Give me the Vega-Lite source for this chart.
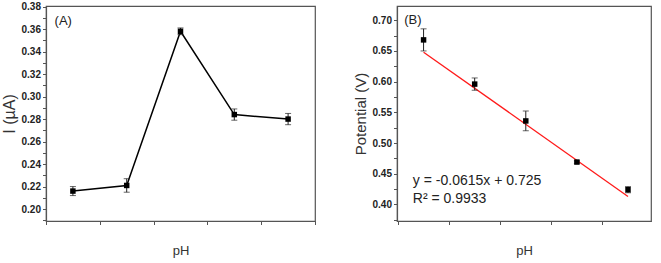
{
  "$schema": "https://vega.github.io/schema/vega-lite/v6.json",
  "padding": {"left": 0, "top": 0, "right": 5, "bottom": 0},
  "background": "white",
  "config": {
    "view": {"stroke": "#555", "strokeWidth": 1.2},
    "font": "Liberation Sans",
    "axis": {"grid": false, "domainColor": "#555", "tickColor": "#555", "labelColor": "#222", "titleColor": "#333", "titleFontWeight": "normal", "domainWidth": 1.2, "labelOverlap": false, "labelBound": false, "tickSize": 3.5, "tickCount": 100}
  },
  "datasets": {
    "a": [
      {"pH": 5, "I": 0.216, "lo": 0.212, "hi": 0.220},
      {"pH": 6, "I": 0.221, "lo": 0.215, "hi": 0.227},
      {"pH": 7, "I": 0.358, "lo": 0.355, "hi": 0.361},
      {"pH": 8, "I": 0.284, "lo": 0.279, "hi": 0.289},
      {"pH": 9, "I": 0.280, "lo": 0.275, "hi": 0.285}
    ],
    "b": [
      {"pH": 5, "E": 0.668, "lo": 0.650, "hi": 0.686},
      {"pH": 6, "E": 0.596, "lo": 0.586, "hi": 0.606},
      {"pH": 7, "E": 0.536, "lo": 0.520, "hi": 0.552},
      {"pH": 8, "E": 0.469, "lo": 0.467, "hi": 0.471},
      {"pH": 9, "E": 0.424, "lo": 0.419, "hi": 0.429}
    ],
    "fit": [
      {"pH": 5, "E": 0.648},
      {"pH": 9, "E": 0.413}
    ],
    "labA": [{"pH": 4.66, "v": 0.367, "label": "(A)"}],
    "labB": [
      {"pH": 4.62, "v": 0.70, "label": "(B)", "size": 13},
      {"pH": 4.79, "v": 0.4378, "label": "y = -0.0615x + 0.725", "size": 14},
      {"pH": 4.79, "v": 0.4086, "label": "R² = 0.9933", "size": 14}
    ]
  },
  "spacing": 35,
  "hconcat": [
    {
      "width": 269,
      "height": 215,
      "layer": [
        {
          "data": {"name": "a"},
          "mark": {"type": "line", "color": "black", "strokeWidth": 1.5},
          "encoding": {
            "x": {"field": "pH", "type": "quantitative", "scale": {"domain": [4.5, 9.5], "nice": false},
                  "axis": {"values": [4.5, 5, 5.5, 6, 6.5, 7, 7.5, 8, 8.5, 9, 9.5], "tickCount": 100, "labelOverlap": false, "format": "d", "labelExpr": "round(datum.value) == datum.value ? format(datum.value, 'd') : ''", "title": "pH", "labelFontSize": 13, "titleFontSize": 13, "labelPadding": 3, "titlePadding": 4}},
            "y": {"field": "I", "type": "quantitative", "scale": {"domain": [0.1894, 0.3805], "nice": false, "zero": false},
                  "axis": {"values": [0.19, 0.2, 0.21, 0.22, 0.23, 0.24, 0.25, 0.26, 0.27, 0.28, 0.29, 0.3, 0.31, 0.32, 0.33, 0.34, 0.35, 0.36, 0.37, 0.38], "tickCount": 100, "labelOverlap": false, "format": ".2f", "labelExpr": "abs(datum.value*50 - round(datum.value*50)) < 0.01 ? datum.label : ''", "title": "I (µA)", "labelFontSize": 10, "labelFontWeight": "bold", "titleFontSize": 16, "labelPadding": 2, "titlePadding": 4}}
          }
        },
        {
          "data": {"name": "a"},
          "mark": {"type": "rule", "color": "#222", "strokeWidth": 1},
          "encoding": {"x": {"field": "pH", "type": "quantitative"}, "y": {"field": "lo", "type": "quantitative"}, "y2": {"field": "hi"}}
        },
        {
          "data": {"name": "a"},
          "mark": {"type": "tick", "orient": "horizontal", "color": "#222", "size": 6, "thickness": 1},
          "encoding": {"x": {"field": "pH", "type": "quantitative"}, "y": {"field": "lo", "type": "quantitative"}}
        },
        {
          "data": {"name": "a"},
          "mark": {"type": "tick", "orient": "horizontal", "color": "#222", "size": 6, "thickness": 1},
          "encoding": {"x": {"field": "pH", "type": "quantitative"}, "y": {"field": "hi", "type": "quantitative"}}
        },
        {
          "data": {"name": "a"},
          "mark": {"type": "point", "shape": "square", "filled": true, "color": "black", "size": 30, "opacity": 1},
          "encoding": {"x": {"field": "pH", "type": "quantitative"}, "y": {"field": "I", "type": "quantitative"}}
        },
        {
          "data": {"name": "labA"},
          "mark": {"type": "text", "align": "left", "baseline": "middle", "fontSize": 13, "color": "#222"},
          "encoding": {"x": {"field": "pH", "type": "quantitative"}, "y": {"field": "v", "type": "quantitative"}, "text": {"field": "label"}}
        }
      ]
    },
    {
      "width": 254,
      "height": 215,
      "layer": [
        {
          "data": {"name": "fit"},
          "mark": {"type": "line", "color": "#ff1a1a", "strokeWidth": 1.3},
          "encoding": {
            "x": {"field": "pH", "type": "quantitative", "scale": {"domain": [4.48, 9.45], "nice": false},
                  "axis": {"values": [4.5, 5, 5.5, 6, 6.5, 7, 7.5, 8, 8.5, 9], "tickCount": 100, "labelOverlap": false, "format": "d", "labelExpr": "round(datum.value) == datum.value ? format(datum.value, 'd') : ''", "title": "pH", "labelFontSize": 13, "titleFontSize": 13, "labelPadding": 3, "titlePadding": 4}},
            "y": {"field": "E", "type": "quantitative", "scale": {"domain": [0.373, 0.7232], "nice": false, "zero": false},
                  "axis": {"values": [0.375, 0.4, 0.425, 0.45, 0.475, 0.5, 0.525, 0.55, 0.575, 0.6, 0.625, 0.65, 0.675, 0.7], "tickCount": 100, "labelOverlap": false, "format": ".2f", "labelExpr": "abs(datum.value*20 - round(datum.value*20)) < 0.01 ? datum.label : ''", "title": "Potential (V)", "labelFontSize": 10, "labelFontWeight": "bold", "titleFontSize": 15, "labelPadding": 2, "titlePadding": 4}}
          }
        },
        {
          "data": {"name": "b"},
          "mark": {"type": "rule", "color": "#222", "strokeWidth": 1},
          "encoding": {"x": {"field": "pH", "type": "quantitative"}, "y": {"field": "lo", "type": "quantitative"}, "y2": {"field": "hi"}}
        },
        {
          "data": {"name": "b"},
          "mark": {"type": "tick", "orient": "horizontal", "color": "#222", "size": 6, "thickness": 1},
          "encoding": {"x": {"field": "pH", "type": "quantitative"}, "y": {"field": "lo", "type": "quantitative"}}
        },
        {
          "data": {"name": "b"},
          "mark": {"type": "tick", "orient": "horizontal", "color": "#222", "size": 6, "thickness": 1},
          "encoding": {"x": {"field": "pH", "type": "quantitative"}, "y": {"field": "hi", "type": "quantitative"}}
        },
        {
          "data": {"name": "b"},
          "mark": {"type": "point", "shape": "square", "filled": true, "color": "black", "size": 30, "opacity": 1},
          "encoding": {"x": {"field": "pH", "type": "quantitative"}, "y": {"field": "E", "type": "quantitative"}}
        },
        {
          "data": {"name": "labB"},
          "mark": {"type": "text", "align": "left", "baseline": "middle", "color": "#222"},
          "encoding": {"x": {"field": "pH", "type": "quantitative"}, "y": {"field": "v", "type": "quantitative"}, "text": {"field": "label"}, "size": {"field": "size", "type": "quantitative", "scale": null, "legend": null}}
        }
      ]
    }
  ]
}
